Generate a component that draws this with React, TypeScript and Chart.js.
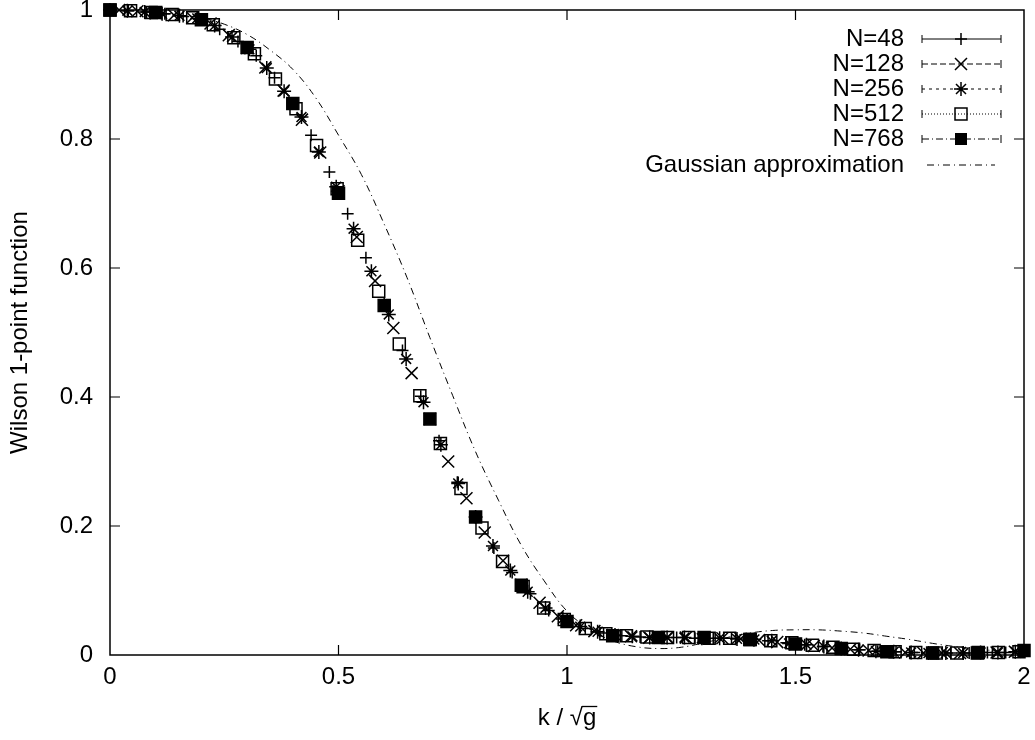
import { useEffect, useRef } from "react";
import { Chart, registerables, ChartConfiguration, Plugin } from "chart.js";

Chart.register(...registerables);

// k / sqrt(g) positions and Wilson 1-point function values
const k48 = [0, 0.04, 0.08, 0.12, 0.16, 0.2, 0.24, 0.28, 0.32, 0.36, 0.4, 0.44, 0.48, 0.52, 0.56, 0.6, 0.64, 0.68, 0.72, 0.76, 0.8, 0.84, 0.88, 0.92, 0.96, 1, 1.04, 1.08, 1.12, 1.16, 1.2, 1.24, 1.28, 1.32, 1.36, 1.4, 1.44, 1.48, 1.52, 1.56, 1.6, 1.64, 1.68, 1.72, 1.76, 1.8, 1.84, 1.88, 1.92, 1.96, 2];
const w48 = [1.0, 0.999, 0.997, 0.994, 0.99, 0.985, 0.97, 0.951, 0.929, 0.895, 0.856, 0.806, 0.749, 0.684, 0.616, 0.544, 0.472, 0.401, 0.332, 0.268, 0.214, 0.166, 0.128, 0.095, 0.069, 0.052, 0.041, 0.034, 0.03, 0.028, 0.027, 0.027, 0.026, 0.026, 0.026, 0.024, 0.022, 0.019, 0.016, 0.013, 0.01, 0.008, 0.006, 0.005, 0.004, 0.003, 0.003, 0.003, 0.004, 0.004, 0.005];

const k128 = [0.02, 0.06, 0.1, 0.14, 0.18, 0.22, 0.26, 0.3, 0.34, 0.38, 0.42, 0.46, 0.5, 0.54, 0.58, 0.62, 0.66, 0.7, 0.74, 0.78, 0.82, 0.86, 0.9, 0.94, 0.98, 1.02, 1.06, 1.1, 1.14, 1.18, 1.22, 1.26, 1.3, 1.34, 1.38, 1.42, 1.46, 1.5, 1.54, 1.58, 1.62, 1.66, 1.7, 1.74, 1.78, 1.82, 1.86, 1.9, 1.94, 1.98];
const w128 = [1.0, 0.998, 0.995, 0.992, 0.988, 0.979, 0.961, 0.941, 0.911, 0.875, 0.83, 0.779, 0.719, 0.648, 0.58, 0.507, 0.437, 0.366, 0.3, 0.243, 0.19, 0.146, 0.109, 0.081, 0.06, 0.046, 0.037, 0.031, 0.029, 0.027, 0.027, 0.027, 0.026, 0.026, 0.025, 0.023, 0.02, 0.017, 0.014, 0.011, 0.009, 0.007, 0.005, 0.004, 0.003, 0.003, 0.003, 0.004, 0.004, 0.005];

const k256 = [0, 0.038, 0.076, 0.114, 0.152, 0.191, 0.229, 0.267, 0.305, 0.343, 0.381, 0.419, 0.457, 0.495, 0.533, 0.572, 0.61, 0.648, 0.686, 0.724, 0.762, 0.8, 0.838, 0.876, 0.914, 0.953, 0.991, 1.029, 1.067, 1.105, 1.143, 1.181, 1.219, 1.257, 1.295, 1.334, 1.372, 1.41, 1.448, 1.486, 1.524, 1.562, 1.6, 1.638, 1.676, 1.715, 1.753, 1.791, 1.829, 1.867, 1.905, 1.943, 1.981];
const w256 = [1.0, 0.999, 0.997, 0.994, 0.991, 0.987, 0.976, 0.958, 0.939, 0.91, 0.874, 0.834, 0.78, 0.726, 0.661, 0.595, 0.528, 0.459, 0.392, 0.326, 0.266, 0.214, 0.169, 0.131, 0.098, 0.073, 0.056, 0.044, 0.036, 0.031, 0.029, 0.027, 0.027, 0.027, 0.026, 0.026, 0.025, 0.024, 0.022, 0.018, 0.016, 0.013, 0.01, 0.008, 0.006, 0.005, 0.004, 0.003, 0.003, 0.003, 0.004, 0.004, 0.005];

const k512 = [0, 0.045, 0.09, 0.136, 0.181, 0.226, 0.271, 0.316, 0.362, 0.407, 0.452, 0.497, 0.542, 0.588, 0.633, 0.678, 0.723, 0.768, 0.814, 0.859, 0.904, 0.949, 0.994, 1.04, 1.085, 1.13, 1.175, 1.22, 1.266, 1.311, 1.356, 1.401, 1.446, 1.492, 1.537, 1.582, 1.627, 1.672, 1.718, 1.763, 1.808, 1.853, 1.898, 1.944, 1.989];
const w512 = [1.0, 0.999, 0.996, 0.993, 0.988, 0.977, 0.957, 0.932, 0.893, 0.847, 0.79, 0.723, 0.643, 0.564, 0.482, 0.402, 0.328, 0.258, 0.197, 0.145, 0.106, 0.073, 0.055, 0.041, 0.033, 0.03, 0.028, 0.027, 0.027, 0.026, 0.026, 0.024, 0.022, 0.019, 0.015, 0.012, 0.009, 0.007, 0.005, 0.004, 0.003, 0.003, 0.003, 0.004, 0.005];

const k768 = [0, 0.1, 0.2, 0.3, 0.4, 0.5, 0.6, 0.7, 0.8, 0.9, 1, 1.1, 1.2, 1.3, 1.4, 1.5, 1.6, 1.7, 1.8, 1.9, 2];
const w768 = [1.0, 0.996, 0.985, 0.942, 0.855, 0.716, 0.542, 0.366, 0.214, 0.108, 0.052, 0.03, 0.027, 0.027, 0.024, 0.017, 0.01, 0.005, 0.003, 0.004, 0.007];

const kGauss = [0, 0.05, 0.1, 0.15, 0.2, 0.25, 0.3, 0.35, 0.4, 0.45, 0.5, 0.55, 0.6, 0.65, 0.7, 0.75, 0.8, 0.85, 0.9, 0.95, 1, 1.05, 1.1, 1.15, 1.2, 1.25, 1.3, 1.35, 1.4, 1.45, 1.5, 1.55, 1.6, 1.65, 1.7, 1.75, 1.8, 1.85, 1.9, 1.95, 2];
const wGauss = [1.0, 0.999, 0.996, 0.992, 0.988, 0.978, 0.962, 0.938, 0.908, 0.864, 0.806, 0.745, 0.668, 0.585, 0.492, 0.402, 0.315, 0.24, 0.17, 0.115, 0.068, 0.04, 0.022, 0.013, 0.01, 0.012, 0.019, 0.027, 0.034, 0.038, 0.039, 0.039, 0.037, 0.034, 0.029, 0.024, 0.018, 0.013, 0.009, 0.006, 0.004];

const xTicks = [0, 0.5, 1, 1.5, 2];
const xTickLabels = ["0", "0.5", "1", "1.5", "2"];
const yTicks = [0, 0.2, 0.4, 0.6, 0.8, 1];
const yTickLabels = ["0", "0.2", "0.4", "0.6", "0.8", "1"];

const legendLabels = ["N=48", "N=128", "N=256", "N=512", "N=768", "Gaussian approximation"];

const FONT = '"Liberation Sans", Arial, Helvetica, sans-serif';
const TEXT_SIZE = 24;

const toPoints = (k: number[], w: number[]) => k.map((x, i) => ({ x, y: w[i] }));

type Mark = "cross" | "crossRot" | "star" | "rectOpen" | "rectFilled" | "none";

// legend sample styles, same order as legendLabels
const legendStyle: { mark: Mark; dash: number[]; caps: boolean }[] = [
    { mark: "cross", dash: [], caps: true },
    { mark: "crossRot", dash: [6, 3], caps: true },
    { mark: "star", dash: [3, 4], caps: true },
    { mark: "rectOpen", dash: [1, 2], caps: true },
    { mark: "rectFilled", dash: [7, 3, 1, 3], caps: true },
    { mark: "none", dash: [7, 4, 1, 4], caps: false },
];

function drawMark(ctx: CanvasRenderingContext2D, mark: Mark, x: number, y: number) {
    ctx.setLineDash([]);
    ctx.beginPath();
    if (mark === "cross") {
        ctx.moveTo(x - 6, y); ctx.lineTo(x + 6, y);
        ctx.moveTo(x, y - 6); ctx.lineTo(x, y + 6);
        ctx.stroke();
    } else if (mark === "crossRot") {
        ctx.moveTo(x - 6, y - 6); ctx.lineTo(x + 6, y + 6);
        ctx.moveTo(x - 6, y + 6); ctx.lineTo(x + 6, y - 6);
        ctx.stroke();
    } else if (mark === "star") {
        ctx.moveTo(x - 7, y); ctx.lineTo(x + 7, y);
        ctx.moveTo(x, y - 7); ctx.lineTo(x, y + 7);
        ctx.moveTo(x - 5, y - 5); ctx.lineTo(x + 5, y + 5);
        ctx.moveTo(x - 5, y + 5); ctx.lineTo(x + 5, y - 5);
        ctx.stroke();
    } else if (mark === "rectOpen") {
        ctx.rect(x - 6, y - 6, 12, 12);
        ctx.stroke();
    } else if (mark === "rectFilled") {
        ctx.rect(x - 6, y - 6, 12, 12);
        ctx.fill();
    }
}

const gnuplotLook: Plugin<"scatter"> = {
    id: "gnuplotLook",
    beforeDatasetsDraw(chart) {
        const { ctx, chartArea: a } = chart;
        const xs = chart.scales.x;
        const ys = chart.scales.y;
        ctx.save();
        ctx.strokeStyle = "#000";
        ctx.lineWidth = 1.5;
        ctx.strokeRect(a.left, a.top, a.right - a.left, a.bottom - a.top);

        // inward ticks, mirrored on all four sides
        ctx.lineWidth = 1.2;
        ctx.beginPath();
        xTicks.slice(1, -1).forEach((v) => {
            const px = xs.getPixelForValue(v);
            ctx.moveTo(px, a.bottom); ctx.lineTo(px, a.bottom - 10);
            ctx.moveTo(px, a.top); ctx.lineTo(px, a.top + 10);
        });
        yTicks.slice(1, -1).forEach((v) => {
            const py = ys.getPixelForValue(v);
            ctx.moveTo(a.left, py); ctx.lineTo(a.left + 10, py);
            ctx.moveTo(a.right, py); ctx.lineTo(a.right - 10, py);
        });
        ctx.stroke();
        ctx.restore();
    },
    afterDraw(chart) {
        const { ctx, chartArea: a } = chart;
        const xs = chart.scales.x;
        const ys = chart.scales.y;
        ctx.save();
        ctx.fillStyle = "#000";
        ctx.strokeStyle = "#000";
        ctx.font = `${TEXT_SIZE}px ${FONT}`;

        // tick labels
        ctx.textBaseline = "middle";
        ctx.textAlign = "center";
        xTicks.forEach((v, i) => ctx.fillText(xTickLabels[i], xs.getPixelForValue(v), a.bottom + 22));
        ctx.textAlign = "right";
        yTicks.forEach((v, i) => ctx.fillText(yTickLabels[i], a.left - 17, ys.getPixelForValue(v)));

        // x title: k / sqrt(g) with an overline on g
        const xt = "k / \u221Ag";
        const cx = (a.left + a.right) / 2;
        const base = 725;
        ctx.textAlign = "left";
        ctx.textBaseline = "alphabetic";
        const wAll = ctx.measureText(xt).width;
        const wPre = ctx.measureText("k / \u221A").width;
        const x0 = cx - wAll / 2;
        ctx.fillText(xt, x0, base);
        ctx.lineWidth = 1.3;
        ctx.beginPath();
        ctx.moveTo(x0 + wPre - 1, base - 18.5);
        ctx.lineTo(x0 + wAll + 1, base - 18.5);
        ctx.stroke();

        // y title
        ctx.save();
        ctx.translate(20, (a.top + a.bottom) / 2);
        ctx.rotate(-Math.PI / 2);
        ctx.textAlign = "center";
        ctx.textBaseline = "middle";
        ctx.fillText("Wilson 1-point function", 0, 0);
        ctx.restore();

        // legend, gnuplot style: right-aligned text then a sample with error-bar caps
        const rows = [39, 64, 89, 114, 139, 165];
        ctx.textAlign = "right";
        ctx.textBaseline = "middle";
        legendLabels.forEach((label, i) => {
            const y = rows[i];
            const st = legendStyle[i];
            ctx.fillText(label, 904, y);
            ctx.lineWidth = 1;
            const x1 = st.caps ? 922 : 927;
            const x2 = st.caps ? 1001 : 995;
            ctx.setLineDash(st.dash);
            ctx.beginPath();
            ctx.moveTo(x1, y);
            ctx.lineTo(x2, y);
            ctx.stroke();
            ctx.setLineDash([]);
            if (st.caps) {
                ctx.beginPath();
                ctx.moveTo(x1, y - 4); ctx.lineTo(x1, y + 4);
                ctx.moveTo(x2, y - 4); ctx.lineTo(x2, y + 4);
                ctx.stroke();
            }
            ctx.lineWidth = 1.5;
            drawMark(ctx, st.mark, 961, y);
        });
        ctx.restore();
    },
};

export default function App() {
    const chartRef = useRef<HTMLCanvasElement>(null);
    const chartInstance = useRef<Chart | null>(null);

    useEffect(() => {
        if (!chartRef.current) return;

        if (chartInstance.current) {
            chartInstance.current.destroy();
        }

        const ctx = chartRef.current.getContext("2d");
        if (!ctx) return;

        const markerSet = {
            showLine: false,
            borderColor: "#000",
            pointBorderWidth: 1.5,
            clip: false as const,
        };

        const config: ChartConfiguration<"scatter"> = {
            type: "scatter",
            data: {
                datasets: [
                    {
                        ...markerSet,
                        label: "N=48",
                        data: toPoints(k48, w48),
                        pointStyle: "cross",
                        pointRadius: 6,
                        backgroundColor: "#000",
                        order: 5,
                    },
                    {
                        ...markerSet,
                        label: "N=128",
                        data: toPoints(k128, w128),
                        pointStyle: "crossRot",
                        pointRadius: 8.5,
                        backgroundColor: "#000",
                        order: 4,
                    },
                    {
                        ...markerSet,
                        label: "N=256",
                        data: toPoints(k256, w256),
                        pointStyle: "star",
                        pointRadius: 7,
                        backgroundColor: "#000",
                        order: 3,
                    },
                    {
                        ...markerSet,
                        label: "N=512",
                        data: toPoints(k512, w512),
                        pointStyle: "rect",
                        pointRadius: 8.5,
                        backgroundColor: "rgba(0,0,0,0)",
                        order: 2,
                    },
                    {
                        ...markerSet,
                        label: "N=768",
                        data: toPoints(k768, w768),
                        pointStyle: "rect",
                        pointRadius: 8.5,
                        backgroundColor: "#000",
                        order: 1,
                    },
                    {
                        label: "Gaussian approximation",
                        data: toPoints(kGauss, wGauss),
                        showLine: true,
                        pointRadius: 0,
                        borderColor: "#000",
                        borderWidth: 1,
                        borderDash: [7, 4, 1, 4],
                        tension: 0.4,
                        clip: false,
                        order: 0,
                    },
                ],
            },
            options: {
                responsive: false,
                animation: false,
                devicePixelRatio: 1,
                layout: { padding: { top: 9, right: 11, left: 0, bottom: 0 } },
                plugins: {
                    legend: { display: false },
                    tooltip: { enabled: false },
                },
                scales: {
                    x: {
                        type: "linear",
                        min: 0,
                        max: 2,
                        grid: { display: false },
                        border: { display: false },
                        ticks: { display: false },
                        afterFit: (s) => {
                            s.height = 85;
                        },
                    },
                    y: {
                        type: "linear",
                        min: 0,
                        max: 1,
                        grid: { display: false },
                        border: { display: false },
                        ticks: { display: false },
                        afterFit: (s) => {
                            s.width = 110;
                        },
                    },
                },
            },
            plugins: [gnuplotLook],
        };

        chartInstance.current = new Chart(ctx, config);

        return () => {
            if (chartInstance.current) {
                chartInstance.current.destroy();
                chartInstance.current = null;
            }
        };
    }, []);

    return (
        <div style={{ position: "absolute", left: 0, top: 0, width: 1035, height: 740, background: "#fff" }}>
            <canvas ref={chartRef} width={1035} height={740} style={{ display: "block" }}></canvas>
        </div>
    );
}
